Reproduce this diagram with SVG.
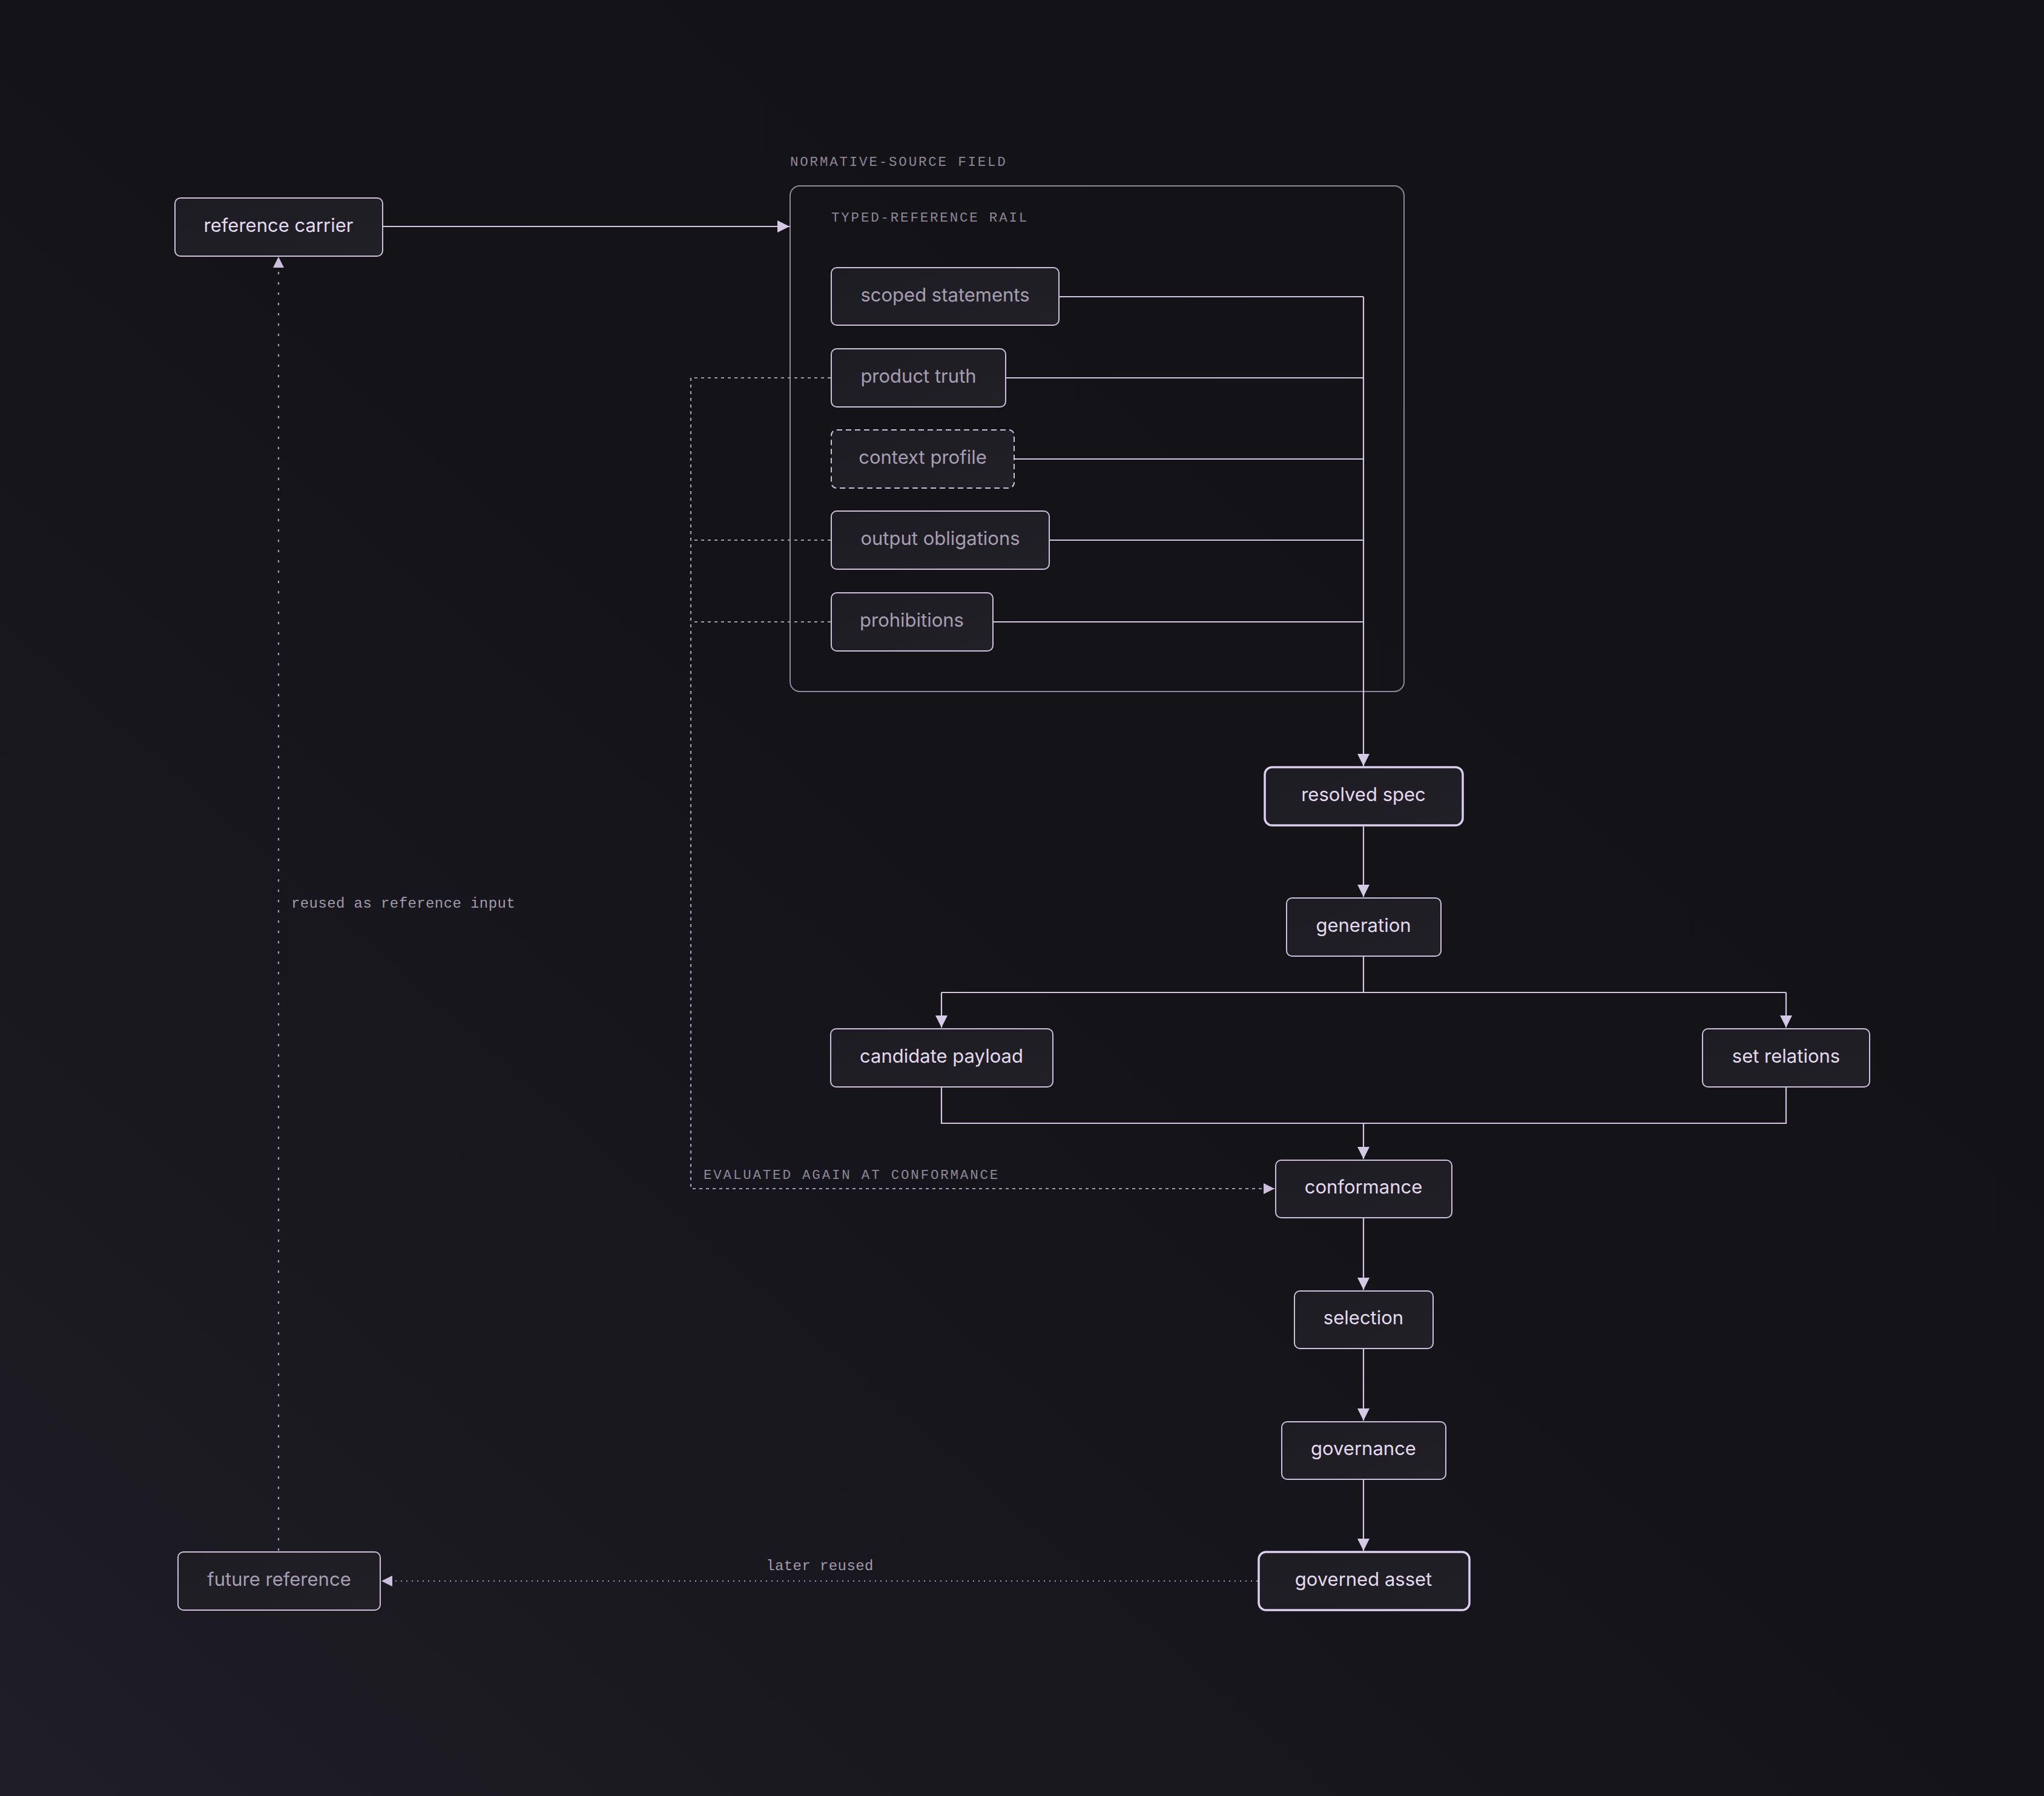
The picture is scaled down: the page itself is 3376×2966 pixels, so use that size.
<svg xmlns="http://www.w3.org/2000/svg" width="3376" height="2966" viewBox="0 0 3376 2966">
  <defs>
    <linearGradient id="bg" x1="1" y1="0" x2="0" y2="1">
      <stop offset="0" stop-color="#131216"/>
      <stop offset="0.5" stop-color="#141318"/>
      <stop offset="1" stop-color="#1f1d25"/>
    </linearGradient>
    <linearGradient id="nodefill" x1="0" y1="0" x2="1" y2="1">
      <stop offset="0" stop-color="#1d1c22"/>
      <stop offset="1" stop-color="#222027"/>
    </linearGradient>
    <marker id="arr" viewBox="0 0 20 20" refX="20" refY="10" markerWidth="20" markerHeight="20" markerUnits="userSpaceOnUse" orient="auto">
      <path d="M0,0 L20,10 L0,20 Z" fill="#d6c9e6"/>
    </marker>
    <marker id="arrDim" viewBox="0 0 20 20" refX="20" refY="10" markerWidth="18" markerHeight="18" markerUnits="userSpaceOnUse" orient="auto">
      <path d="M0,0 L20,10 L0,20 Z" fill="#cbbfdb"/>
    </marker>
  </defs>
  <style>
    .node rect { fill: url(#nodefill); stroke: #cdc0de; stroke-width: 2; }
    .node.strong rect { stroke: #dccff0; stroke-width: 3.5; }
    .node.dashed rect { stroke-dasharray: 9 6; }
    .node text { font-family: Inter, "Liberation Sans", sans-serif; font-size: 31px; fill: #e4daf0; text-anchor: middle; dominant-baseline: central; }
    .node.dim text { fill: #a79eb3; }
    .group rect { fill: none; stroke: #8f879b; stroke-width: 2; }
    .caps { font-family: "Liberation Mono", "DejaVu Sans Mono", monospace; font-size: 22.5px; letter-spacing: 2.8px; fill: #8e8699; }
    .elabel { font-family: "Liberation Mono", "DejaVu Sans Mono", monospace; font-size: 24px; letter-spacing: 0.4px; fill: #a39aae; }
    .conn path { fill: none; stroke: #d3c6e3; stroke-width: 2.2; }
    .conn path.loop { stroke: #a49bb0; stroke-dasharray: 5 6; stroke-width: 2.2; }
    .conn path.reuse { stroke: #a49bb0; stroke-dasharray: 4 13; stroke-width: 2.2; }
    .conn path.later { stroke: #a49bb0; stroke-dasharray: 2 7; stroke-width: 2.2; }
  </style>
  <rect x="0" y="0" width="3376" height="2966" fill="url(#bg)"/>

  <g id="normative-source-field" class="group">
    <text class="caps" x="1305" y="274">NORMATIVE-SOURCE FIELD</text>
    <rect x="1305" y="307" width="1014" height="835" rx="16"/>
    <text class="caps" x="1373" y="366">TYPED-REFERENCE RAIL</text>
  </g>

  <g id="connectors" class="conn">
    <path d="M632,374 L1304,374" marker-end="url(#arr)"/>
    <path d="M1749,490 L2252,490"/>
    <path d="M1661,624 L2252,624"/>
    <path d="M1675,758 L2252,758"/>
    <path d="M1733,892 L2252,892"/>
    <path d="M1640,1027 L2252,1027"/>
    <path d="M2252,490 L2252,1265" marker-end="url(#arr)"/>
    <path d="M2252,1365 L2252,1481" marker-end="url(#arr)"/>
    <path d="M2252,1579 L2252,1639 M1555,1639 L2950,1639"/>
    <path d="M1555,1639 L1555,1697" marker-end="url(#arr)"/>
    <path d="M2950,1639 L2950,1697" marker-end="url(#arr)"/>
    <path d="M1555,1795 L1555,1855 L2950,1855 L2950,1795"/>
    <path d="M2252,1855 L2252,1914" marker-end="url(#arr)"/>
    <path d="M2252,2011 L2252,2130" marker-end="url(#arr)"/>
    <path d="M2252,2227 L2252,2346" marker-end="url(#arr)"/>
    <path d="M2252,2443 L2252,2561" marker-end="url(#arr)"/>
    <path class="loop" d="M1372,624 L1141,624 L1141,1963 L2105,1963" marker-end="url(#arrDim)"/>
    <path class="loop" d="M1372,892 L1141,892"/>
    <path class="loop" d="M1372,1027 L1141,1027"/>
    <path class="later" d="M2077,2611 L630,2611" marker-end="url(#arrDim)"/>
    <path class="reuse" d="M460,2561 L460,424" marker-end="url(#arrDim)"/>
    <text class="caps" x="1162" y="1947">EVALUATED AGAIN AT CONFORMANCE</text>
    <text class="elabel" x="1354" y="2593" text-anchor="middle">later reused</text>
    <text class="elabel" x="481" y="1499">reused as reference input</text>
  </g>

  <g id="reference-carrier" class="node">
    <rect x="289" y="327" width="343" height="96" rx="9"/>
    <text x="460" y="371">reference carrier</text>
  </g>
  <g id="scoped-statements" class="node dim">
    <rect x="1373" y="442" width="376" height="95" rx="9"/>
    <text x="1561" y="486">scoped statements</text>
  </g>
  <g id="product-truth" class="node dim">
    <rect x="1373" y="576" width="288" height="96" rx="9"/>
    <text x="1517" y="620">product truth</text>
  </g>
  <g id="context-profile" class="node dim dashed">
    <rect x="1373" y="710" width="302" height="96" rx="9"/>
    <text x="1524" y="754">context profile</text>
  </g>
  <g id="output-obligations" class="node dim">
    <rect x="1373" y="844" width="360" height="96" rx="9"/>
    <text x="1553" y="888">output obligations</text>
  </g>
  <g id="prohibitions" class="node dim">
    <rect x="1373" y="979" width="267" height="96" rx="9"/>
    <text x="1506" y="1023">prohibitions</text>
  </g>
  <g id="resolved-spec" class="node strong">
    <rect x="2089" y="1267" width="327" height="96" rx="12"/>
    <text x="2252" y="1311">resolved spec</text>
  </g>
  <g id="generation" class="node">
    <rect x="2125" y="1483" width="255" height="96" rx="9"/>
    <text x="2252" y="1527">generation</text>
  </g>
  <g id="candidate-payload" class="node">
    <rect x="1372" y="1699" width="367" height="96" rx="9"/>
    <text x="1555" y="1743">candidate payload</text>
  </g>
  <g id="set-relations" class="node">
    <rect x="2812" y="1699" width="276" height="96" rx="9"/>
    <text x="2950" y="1743">set relations</text>
  </g>
  <g id="conformance" class="node">
    <rect x="2107" y="1916" width="291" height="95" rx="9"/>
    <text x="2252" y="1959">conformance</text>
  </g>
  <g id="selection" class="node">
    <rect x="2138" y="2132" width="229" height="95" rx="9"/>
    <text x="2252" y="2175">selection</text>
  </g>
  <g id="governance" class="node">
    <rect x="2117" y="2348" width="271" height="95" rx="9"/>
    <text x="2252" y="2391">governance</text>
  </g>
  <g id="governed-asset" class="node strong">
    <rect x="2079" y="2563" width="348" height="96" rx="12"/>
    <text x="2252" y="2607">governed asset</text>
  </g>
  <g id="future-reference" class="node dim">
    <rect x="294" y="2563" width="334" height="96" rx="9"/>
    <text x="461" y="2607">future reference</text>
  </g>
</svg>
